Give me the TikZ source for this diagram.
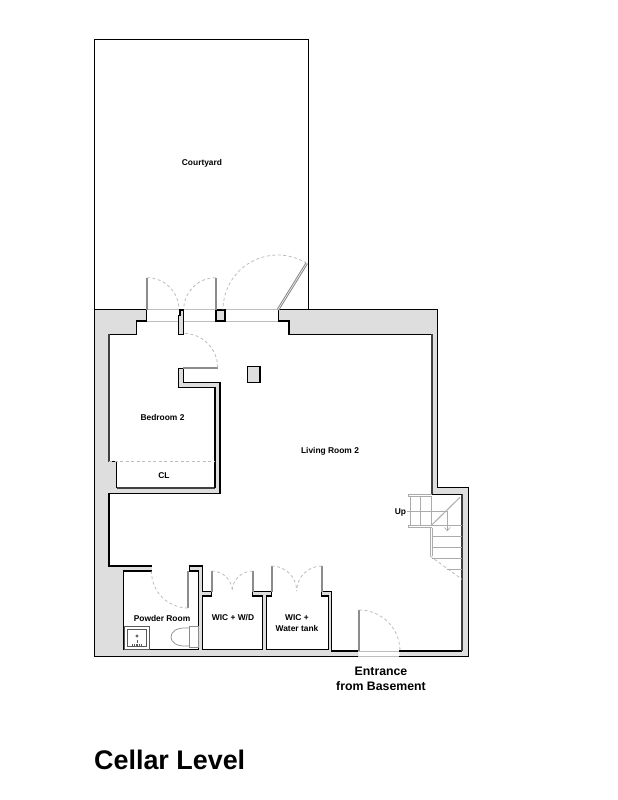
\documentclass[tikz,border=0pt]{standalone}
\usepackage{fontspec}
\setmainfont{Liberation Sans}
\definecolor{wallgray}{HTML}{DEDEDE}
\definecolor{leafgray}{HTML}{8C8C8C}
\definecolor{swinggray}{HTML}{BDBDBD}
\definecolor{stairgray}{HTML}{ABABAB}
\begin{document}
\begin{tikzpicture}[x=1pt,y=-1pt]
\tikzset{wall/.style={draw=black, line width=1.1pt, line join=miter},
		heavywall/.style={draw=black!75, line width=2pt},
		opening/.style={draw=swinggray, line width=0.9pt},
		leaf/.style={draw=leafgray, line width=2pt},
		swing/.style={draw=swinggray, line width=0.8pt, dash pattern=on 3pt off 2.5pt},
		tread/.style={draw=stairgray, line width=1pt},
		fixture/.style={draw=black!65, line width=0.7pt},
		roomlabel/.style={font=\fontsize{8.4}{10.5}\selectfont\bfseries, align=center, inner sep=0pt},
		entrylabel/.style={font=\fontsize{12.3}{15}\selectfont\bfseries, align=center, inner sep=0pt},
		titlelabel/.style={font=\fontsize{26.9}{30}\selectfont\bfseries, anchor=west, inner sep=0pt}}
\useasboundingbox (0,0) rectangle (618,800);
\fill[white] (0,0) rectangle (618,800);
\fill[wallgray] (94.7,309.7) -- (437.7,309.7) -- (437.7,487.3) -- (468.3,487.3) -- (468.3,656.5) -- (94.7,656.5) -- cycle;
\fill[white] (146.7,309.7) -- (146.7,321) -- (136.3,321) -- (136.3,334.3) -- (109,334.3) -- (109,461.7) -- (116.7,461.7) -- (116.7,487.7) -- (215,487.7) -- (215,387.3) -- (178.3,387.3) -- (178.3,368.3) -- (183.3,368.3) -- (183.3,382.7) -- (220,382.7) -- (220,493.3) -- (109,493.3) -- (109,566) -- (152,566) -- (152,571) -- (123.3,571) -- (123.3,649.3) -- (198.3,649.3) -- (198.3,571) -- (189.3,571) -- (189.3,566) -- (202.7,566) -- (202.7,591.7) -- (211.7,591.7) -- (211.7,596) -- (202.7,596) -- (202.7,649.3) -- (262.7,649.3) -- (262.7,596) -- (252.7,596) -- (252.7,591.7) -- (271.7,591.7) -- (271.7,596) -- (266.7,596) -- (266.7,649.3) -- (328.3,649.3) -- (328.3,596) -- (321.7,596) -- (321.7,591.7) -- (331.7,591.7) -- (331.7,651) -- (358.3,651) -- (358.3,656.5) -- (399.3,656.5) -- (399.3,651) -- (462.3,651) -- (462.3,494.3) -- (431.7,494.3) -- (431.7,334.3) -- (289,334.3) -- (289,321) -- (278.3,321) -- (278.3,309.7) -- cycle;
\draw[opening] (146.7,309.7) -- (278.3,309.7);
\draw[opening] (146.7,321) -- (278.3,321);
\draw[opening] (358.3,651) -- (399.3,651);
\draw[opening] (358.3,656.5) -- (399.3,656.5);
\filldraw[wall, fill=wallgray] (180,310) -- (183.3,310) -- (183.3,334.3) -- (178.3,334.3) -- (178.3,315.7) -- (180,315.7) -- cycle;
\filldraw[wall, fill=wallgray] (216,310) rectangle (225,321);
\filldraw[wall, fill=wallgray] (247.3,366.7) rectangle (260,382.3);
\draw[wall] (94.7,309.7) -- (94.7,39.5) -- (308.3,39.5) -- (308.3,309.7);
\draw[wall] (146.7,309.7) -- (94.7,309.7) -- (94.7,656.5) -- (358.3,656.5);
\draw[wall] (399.3,656.5) -- (468.3,656.5) -- (468.3,487.3) -- (437.7,487.3) -- (437.7,309.7) -- (278.3,309.7) -- (278.3,321) -- (289,321) -- (289,334.3) -- (431.7,334.3);
\draw[wall] (146.7,309.7) -- (146.7,321) -- (136.3,321) -- (136.3,334.3) -- (109,334.3);
\draw[heavywall] (109,334.3) -- (109,461.7);
\draw[wall] (109,461.7) -- (116.7,461.7) -- (116.7,487.7);
\draw[heavywall] (116.7,487.7) -- (215,487.7);
\draw[wall] (215,487.7) -- (215,387.3) -- (178.3,387.3) -- (178.3,368.3) -- (183.3,368.3) -- (183.3,382.7) -- (220,382.7) -- (220,493.3) -- (109,493.3) -- (109,566) -- (152,566);
\draw[wall] (152,571) -- (123.3,571) -- (123.3,649.3) -- (198.3,649.3) -- (198.3,571) -- (189.3,571) -- (189.3,566) -- (202.7,566) -- (202.7,591.7) -- (211.7,591.7) -- (211.7,596) -- (202.7,596) -- (202.7,649.3) -- (262.7,649.3) -- (262.7,596) -- (252.7,596) -- (252.7,591.7) -- (271.7,591.7) -- (271.7,596) -- (266.7,596) -- (266.7,649.3) -- (328.3,649.3) -- (328.3,596) -- (321.7,596) -- (321.7,591.7) -- (331.7,591.7) -- (331.7,651) -- (358.3,651);
\draw[wall] (399.3,651) -- (462.3,651);
\draw[heavywall] (462.3,651) -- (462.3,494.3);
\draw[wall] (462.3,494.3) -- (431.7,494.3);
\draw[heavywall] (431.7,494.3) -- (431.7,334.3);
\draw[leaf] (147,277.7) -- (147,309.7);
\draw[leaf] (215.7,277.7) -- (215.7,309.7);
\draw[leaf] (183.3,367.7) -- (217.7,367.7);
\draw[leaf] (188,571) -- (188,608);
\draw[leaf] (211.7,571) -- (211.7,591.7);
\draw[leaf] (252.7,571) -- (252.7,591.7);
\draw[leaf] (271.7,566) -- (271.7,591.7);
\draw[leaf] (321.7,566) -- (321.7,591.7);
\draw[leaf] (359,610) -- (359,651);
\draw[leaf, line width=2.6pt] (278,309.7) -- (306.7,263.3);
\draw[white, line width=0.5pt] (278,309.7) -- (306.7,263.3);
\draw[swing] (147,277.7) arc (-90:-5:32);
\draw[swing] (215.7,277.7) arc (-90:-175:32);
\draw[swing] (306.7,263.3) arc (-58:-180:54.7);
\draw[swing] (217.7,367.7) arc (0:-90:34.4);
\draw[swing] (188,608) arc (90:180:36.5);
\draw[swing] (211.7,571) arc (-90:0:20.7);
\draw[swing] (252.7,571) arc (-90:-180:20.7);
\draw[swing] (271.7,566) arc (-90:0:25);
\draw[swing] (321.7,566) arc (-90:-180:25);
\draw[swing] (359,610) arc (-90:0:41);
\draw[swing] (109,461.7) -- (215,461.7);
\draw[swing] (430,556) -- (462,579.3);
\draw[tread] (408.3,494.3) -- (431.7,494.3);
\draw[tread] (408.3,496.7) -- (431.7,496.7);
\draw[tread] (408.3,525.3) -- (431.7,525.3);
\draw[tread] (408.3,527.7) -- (431.7,527.7);
\draw[tread] (408.3,494.3) -- (408.3,496.7);
\draw[tread] (408.3,525.3) -- (408.3,527.7);
\draw[tread] (410,496.7) -- (410,525.3);
\draw[tread] (420.7,496.7) -- (420.7,525.3);
\draw[tread] (431,496.7) -- (431,525.3);
\draw[tread] (431.7,525) -- (460,497.3);
\draw[tread] (430,527.7) -- (430,556);
\draw[tread] (432,527.7) -- (432,556);
\draw[tread] (431.7,525.7) -- (462,525.7);
\draw[tread] (431.7,536.7) -- (462,536.7);
\draw[tread] (431.7,547.3) -- (462,547.3);
\draw[tread] (431.7,558.3) -- (462,558.3);
\draw[tread] (447,569) -- (462,569);
\draw[tread, line width=0.7pt] (406.7,511.7) -- (447.3,511.7) -- (447.3,530.7);
\draw[tread, line width=0.7pt] (444.5,527.5) -- (447.3,530.7) -- (450.1,527.5);
\draw[fixture] (124,626.7) rectangle (149.3,649);
\draw[fixture] (127.7,629.3) rectangle (146.7,646.7);
\draw[fixture] (137,636) circle (1.2);
\draw[fixture] (137,639.5) -- (137,643);
\draw[fixture, line width=1.2pt, dash pattern=on 1.2pt off 1pt] (132,645) -- (143,645);
\draw[fixture, draw=black!45] (189,626) rectangle (198,647.7);
\draw[fixture, draw=black!45] (189,628) .. controls (176,627) and (171,632) .. (171,637) .. controls (171,642) and (176,647) .. (189,646);
\node[roomlabel] (courtyard) at (202,163) {Courtyard};
\node[roomlabel] (bedroom) at (162.5,417) {Bedroom 2};
\node[roomlabel] (closet) at (164,476) {CL};
\node[roomlabel] (living) at (330,451) {Living Room 2};
\node[roomlabel] (stairup) at (400.5,512) {Up};
\node[roomlabel] (powder) at (162,618.5) {Powder Room};
\node[roomlabel] (laundry) at (233,618) {WIC + W/D};
\node[roomlabel] (tank) at (297,623) {WIC +\\Water tank};
\node[entrylabel] (entrance) at (381,679) {Entrance\\from Basement};
\node[titlelabel] (title) at (94,760) {Cellar Level};
\end{tikzpicture}
\end{document}
